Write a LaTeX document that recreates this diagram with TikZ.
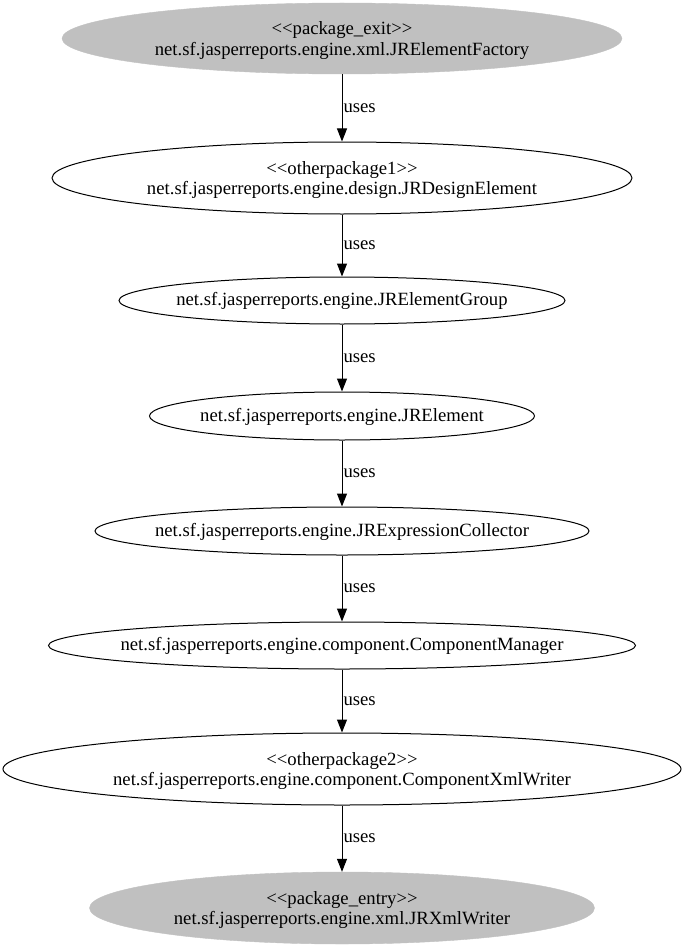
\documentclass[tikz,border=0pt]{standalone}
\usepackage{fontspec}
\setmainfont{Liberation Serif}[Ligatures=NoCommon]
\usetikzlibrary{shapes.geometric,arrows.meta}
\definecolor{pkggrey}{HTML}{C0C0C0}
\newcommand{\st}[1]{{<}{<}#1{>}{>}}
\begin{document}
\begin{tikzpicture}[x=1pt,y=-1pt,
  base/.style={ellipse,inner sep=0pt},
  plain/.style={base,draw=black,line width=1pt},
  grey/.style={base,draw=pkggrey,fill=pkggrey},
  txt/.style={inner sep=0pt,align=center,font=\fontsize{18.7}{20.5}\selectfont},
  edge/.style={draw=black,line width=1pt,-{Triangle[length=13pt,width=10pt]}},
  lbl/.style={anchor=west,inner sep=1pt,font=\fontsize{18.7}{20}\selectfont}]
\useasboundingbox (0,0) rectangle (685,947);
\node[grey,minimum width=560pt,minimum height=71pt] (n1) at (342,38.5) {};
\node[plain,minimum width=580pt,minimum height=72pt] (n2) at (342,178) {};
\node[plain,minimum width=446pt,minimum height=47pt] (n3) at (342,300.5) {};
\node[plain,minimum width=385pt,minimum height=48pt] (n4) at (342,416) {};
\node[plain,minimum width=494pt,minimum height=48pt] (n5) at (342,531) {};
\node[plain,minimum width=587pt,minimum height=47pt] (n6) at (342,645.5) {};
\node[plain,minimum width=678pt,minimum height=72pt] (n7) at (342,769) {};
\node[grey,minimum width=505pt,minimum height=72pt] (n8) at (342,908) {};
\node[txt] (t1) at (342,40.5) {\st{package\_exit}\\net.sf.jasperreports.engine.xml.JRElementFactory};
\node[txt] (t2) at (342,180) {\st{otherpackage1}\\net.sf.jasperreports.engine.design.JRDesignElement};
\node[txt] (t3) at (342,301) {net.sf.jasperreports.engine.JRElementGroup};
\node[txt] (t4) at (342,416.5) {net.sf.jasperreports.engine.JRElement};
\node[txt] (t5) at (342,531.5) {net.sf.jasperreports.engine.JRExpressionCollector};
\node[txt] (t6) at (342,646) {net.sf.jasperreports.engine.component.ComponentManager};
\node[txt] (t7) at (342,771) {\st{otherpackage2}\\net.sf.jasperreports.engine.component.ComponentXmlWriter};
\node[txt] (t8) at (342,910) {\st{package\_entry}\\net.sf.jasperreports.engine.xml.JRXmlWriter};
\draw[edge] (n1) -- node[lbl] {uses} (n2);
\draw[edge] (n2) -- node[lbl] {uses} (n3);
\draw[edge] (n3) -- node[lbl] {uses} (n4);
\draw[edge] (n4) -- node[lbl] {uses} (n5);
\draw[edge] (n5) -- node[lbl] {uses} (n6);
\draw[edge] (n6) -- node[lbl] {uses} (n7);
\draw[edge] (n7) -- node[lbl] {uses} (n8);
\end{tikzpicture}
\end{document}
